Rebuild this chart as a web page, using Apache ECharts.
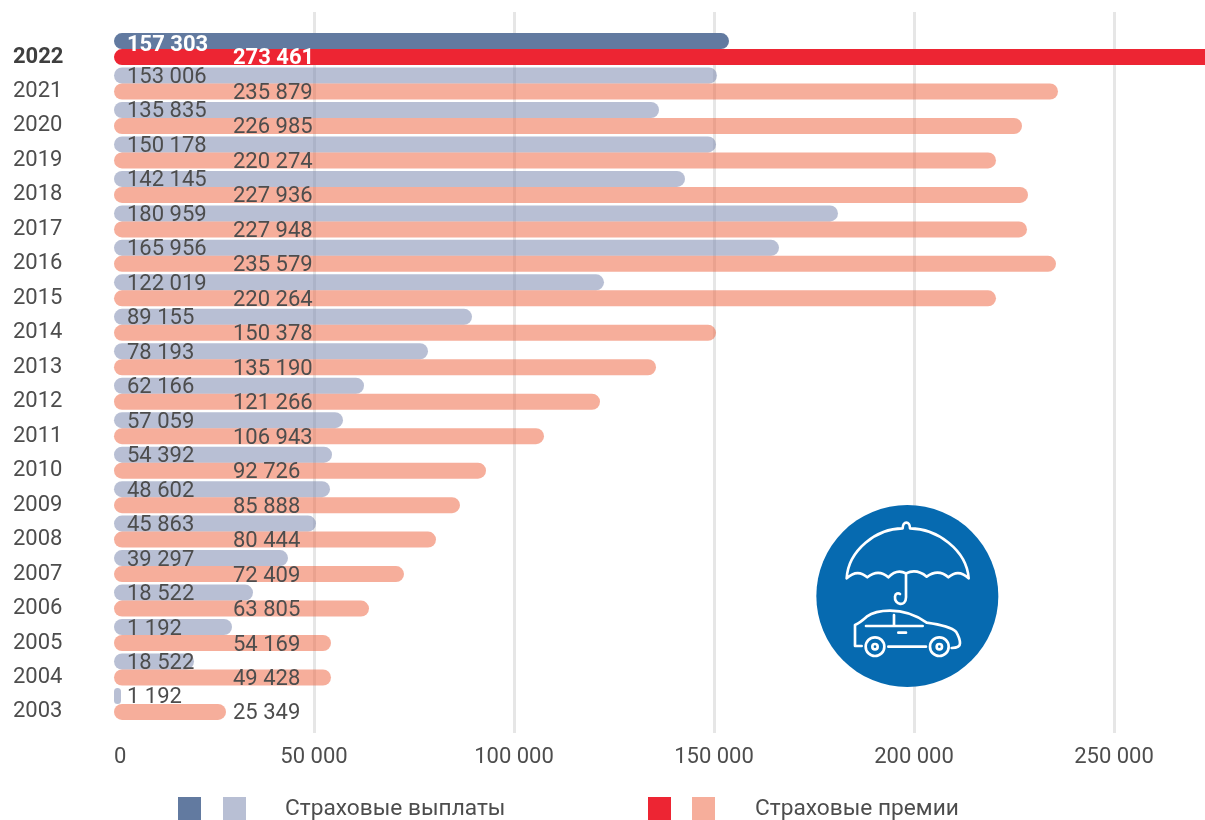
<!DOCTYPE html>
<html>
<head>
<meta charset="utf-8">
<style>
    html, body { margin: 0; padding: 0; background: #fff; overflow: hidden; }
    #chart { width: 1205px; height: 820px; }
</style>
<script src="https://cdn.jsdelivr.net/npm/echarts@6/dist/echarts.min.js"></script>
</head>
<body>
<div id="chart"></div>
<script>
// годы сверху вниз
const years = ['2022','2021','2020','2019','2018','2017','2016','2015','2014','2013','2012','2011','2010','2009','2008','2007','2006','2005','2004','2003'];

// длины полос (подписи на картинке не всегда им равны)
// полоса 2022 года уходит за правый край, поэтому 275000
const payoutBars = [153750,150750,136250,150500,142750,181000,166250,122500,89500,78500,62500,57250,54500,54000,50500,43500,34750,29500,20000,1750];
const premiumBars = [275000,236000,227000,220500,228500,228250,235500,220500,150500,135500,121500,107500,93000,86500,80500,72500,63750,54250,54250,28000];

// подписи как они напечатаны
const payoutLabels = ['157 303','153 006','135 835','150 178','142 145','180 959','165 956','122 019','89 155','78 193','62 166','57 059','54 392','48 602','45 863','39 297','18 522','1 192','18 522','1 192'];
const premiumLabels = ['273 461','235 879','226 985','220 274','227 936','227 948','235 579','220 264','150 378','135 190','121 266','106 943','92 726','85 888','80 444','72 409','63 805','54 169','49 428','25 349'];

const payoutName = 'Страховые выплаты';
const premiumName = 'Страховые премии';

const FONT = 'Roboto';
const TEXT = '#4d4d4d';
const ICON = '#ffffff';

// текущий год выделен цветом и жирной подписью
function buildData(values, current, currentOffset) {
    return values.map(function (v, i) {
        if (i !== 0) return v;
        return {
            value: v,
            itemStyle: { color: current },
            label: { color: '#fff', fontWeight: 'bold', offset: currentOffset }
        };
    });
}

function barSeries(name, values, labels, color, current, distance, currentOffset) {
    return {
        name: name,
        type: 'bar',
        xAxisIndex: 0,
        yAxisIndex: 0,
        z: 2,
        barWidth: 16,
        barGap: 0,
        itemStyle: { color: color, borderRadius: 8 },
        label: {
            show: true,
            position: 'insideLeft',
            distance: distance,
            offset: [0, 2],
            fontFamily: FONT,
            fontSize: 22,
            color: TEXT,
            formatter: function (p) { return labels[p.dataIndex]; }
        },
        data: buildData(values, current, currentOffset)
    };
}

function legendRect(x, color) {
    return { type: 'rect', shape: { x: x, y: 797, width: 23, height: 23 }, style: { fill: color } };
}

function legendText(x, text) {
    return {
        type: 'text',
        x: x,
        y: 809,
        style: { text: text, fill: TEXT, font: '22.7px ' + FONT, textAlign: 'left', textVerticalAlign: 'middle' }
    };
}

// значок: зонт над машиной
const line = { fill: 'none', stroke: ICON, lineWidth: 8, lineCap: 'round', lineJoin: 'round' };

// у компонента graphic нет типа path, контуры регистрируем как свои фигуры
function iconPath(name, d) {
    echarts.graphic.registerShape(name, echarts.graphic.extendPath(d));
    return { type: name, z: 21, style: line };
}

function iconCircle(cx, cy, r) {
    return { type: 'circle', z: 21, shape: { cx: cx, cy: cy, r: r }, style: line };
}

const icon = {
    type: 'group',
    x: 780,
    y: 500,
    scaleX: 1 / 3,
    scaleY: 1 / 3,
    children: [
        { type: 'circle', z: 20, shape: { cx: 382, cy: 288, r: 273 }, style: { fill: '#066ab0' } },
        iconPath('umbrellaTop', 'M200 235 C205 150 290 85 368 85 C368 62 390 62 390 85 C470 85 560 150 566 235 Q535 205 505 232 Q475 205 440 230 Q410 205 378 220 Q350 205 325 232 Q295 205 262 232 Q232 205 200 235 Z'),
        iconPath('umbrellaHandle', 'M378 220 L378 292 C378 322 342 315 345 290 C346 280 355 278 360 282'),
        iconPath('carBody', 'M245 438 L225 438 L225 375 Q240 368 260 350 Q285 332 330 332 Q390 332 440 368 Q510 378 528 395 Q540 415 540 430 Q540 444 515 444'),
        iconPath('carLines', 'M258 378 L428 378 M342 345 L342 378 M355 398 L378 398 M325 440 L438 440'),
        iconCircle(285, 440, 28),
        iconCircle(285, 440, 8),
        iconCircle(478, 440, 28),
        iconCircle(478, 440, 8)
    ]
};

const chartInstance = echarts.init(document.getElementById('chart'), null, { renderer: 'canvas' });

const option = {
    animation: false,
    backgroundColor: '#fff',
    // первая сетка для полос, вторая только для вертикальных линий, они длиннее
    // ось уходит за край окна, поэтому outerBoundsMode отключён
    grid: [
        { left: 114, top: 31.8, width: 1200, height: 689.4, outerBoundsMode: 'none' },
        { left: 114, top: 12, width: 1200, height: 721, outerBoundsMode: 'none' }
    ],
    xAxis: [
        { type: 'value', gridIndex: 0, min: 0, max: 300000, show: false },
        {
            type: 'value',
            gridIndex: 1,
            min: 0,
            max: 300000,
            interval: 50000,
            axisLine: { show: false },
            axisTick: { show: false },
            splitLine: {
                show: true,
                showMinLine: false,
                lineStyle: { color: '#e6e6e6', width: 3 }
            },
            axisLabel: {
                margin: 13,
                alignMinLabel: 'left',
                showMaxLabel: false,
                fontFamily: FONT,
                fontSize: 22,
                color: TEXT,
                formatter: function (v) {
                    return String(v).replace(/\B(?=(\d{3})+$)/g, ' ');
                }
            }
        }
    ],
    yAxis: [
        {
            type: 'category',
            gridIndex: 0,
            inverse: true,
            data: years,
            axisLine: { show: false },
            axisTick: { show: false },
            axisLabel: {
                margin: 101,
                align: 'left',
                padding: [16, 0, 0, 0],
                fontFamily: FONT,
                fontSize: 22,
                color: TEXT,
                formatter: function (v, i) {
                    return i === 0 ? '{b|' + v + '}' : v;
                },
                rich: {
                    b: { fontFamily: FONT, fontSize: 22, fontWeight: 'bold', color: '#3f3f3f' }
                }
            }
        },
        { type: 'category', gridIndex: 1, show: false, data: years }
    ],
    series: [
        // светлые полосы полупрозрачные, сквозь них видно линии сетки
        barSeries(payoutName, payoutBars, payoutLabels, 'rgba(113,127,169,0.5)', '#627aa0', 13, [0, 4]),
        barSeries(premiumName, premiumBars, premiumLabels, 'rgba(237,93,55,0.5)', '#ed2533', 119, [0, 1])
    ],
    graphic: [
        legendRect(178, '#627aa0'),
        legendRect(223, '#b8bfd4'),
        legendText(285, payoutName),
        legendRect(648, '#ed2533'),
        legendRect(692, '#f6ae9b'),
        legendText(755, premiumName),
        icon
    ]
};

chartInstance.setOption(option);
</script>
</body>
</html>
